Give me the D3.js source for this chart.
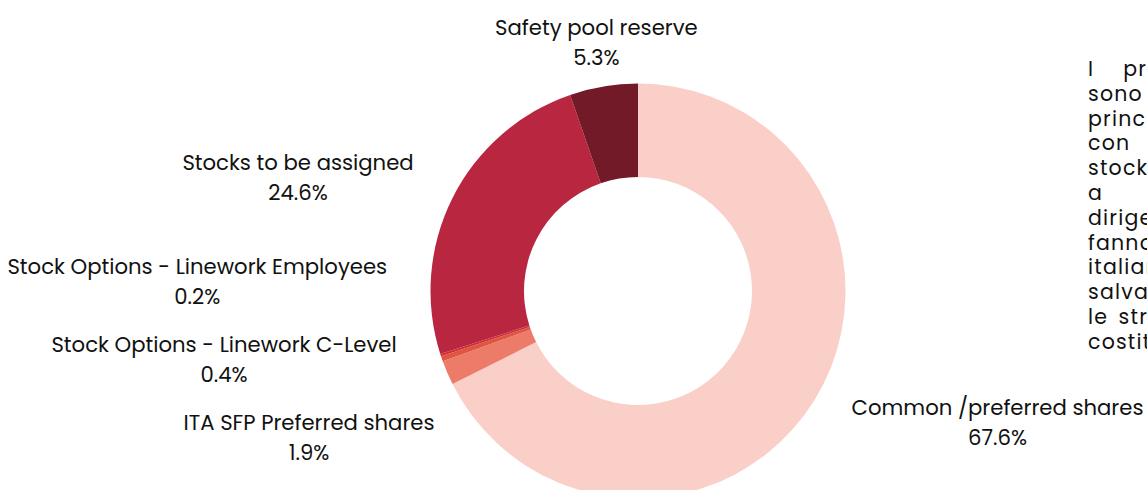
<!DOCTYPE html>
<html>
  <head>
    <meta charset="UTF-8">
    <title>Cap table</title>
    <style>
      body { margin: 0; background: #fff; overflow: hidden; }
      svg { position: absolute; left: 0; top: 0; }
      .note {
        position: absolute; left: 1088px; top: 57px; width: 235px;
        font-family: Poppins, "DejaVu Sans", sans-serif;
        font-size: 20.5px; letter-spacing: 1.2px; line-height: 24.8px; color: #111;
      }
      .note span { display: block; white-space: nowrap; text-align: justify; text-align-last: justify; }
    </style>
  </head>
  <body>

    <svg class="chart"></svg>
    <div class="note"></div>

    <script src="https://d3js.org/d3.v7.min.js"></script>
    <script>

// shares of the cap table, clockwise from 12 o'clock
var categories = [
  "Common /preferred shares",
  "ITA SFP Preferred shares",
  "Stock Options - Linework C-Level",
  "Stock Options - Linework Employees",
  "Stocks to be assigned",
  "Safety pool reserve"
];
var shares = [67.6, 1.9, 0.4, 0.2, 24.6, 5.3];
var colors = ["#f9cfc8", "#ec7b6a", "#e0553f", "#cf2f33", "#b8263f", "#721a28"];

// paragraph beside the chart (cut off by the window)
var noteLines = [
  "I primi investitori",
  "sono i fondatori",
  "principalmente",
  "con quote e",
  "stock options",
  "a manager e",
  "dirigenti che",
  "fanno parte",
  "italiani e",
  "salvaguardano",
  "le strategie dei soci",
  "costitutive"
];

var width = 1147, height = 490;
var cx = 638, cy = 291;
var outerR = 207.5, innerR = 114;
var labelR = 251;     // where the label hugs the pie
var labelGap = 78;    // min vertical distance between stacked labels
var labelMaxY = 438;  // keep the lowest label in the frame

var svg = d3.select("svg")
    .attr("width", width)
    .attr("height", height);

var data = categories.map(function(c, i) {
  return { name: c, value: shares[i], color: colors[i] };
});

var pie = d3.pie()
    .sort(null)
    .value(function(d) { return d.value; });

var arc = d3.arc()
    .innerRadius(innerR)
    .outerRadius(outerR);

var arcs = pie(data);

var g = svg.append("g")
    .attr("transform", "translate(" + cx + "," + cy + ")");

g.selectAll("path")
  .data(arcs)
  .enter().append("path")
    .attr("d", arc)
    .attr("fill", function(d) { return d.data.color; });

/* LABELS */

arcs.forEach(function(d) {
  d.mid = (d.startAngle + d.endAngle) / 2;
  d.side = Math.sin(d.mid) >= 0 ? 1 : -1;
  d.ly = -Math.cos(d.mid) * labelR;
});

// spread the stacked labels on the left half, then keep them in the frame
var left = arcs.filter(function(d) { return d.side < 0; })
  .sort(function(a, b) { return a.ly - b.ly; });
for (var it = 0; it < 200; it++) {
  for (var i = 0; i < left.length - 1; i++) {
    var overlap = labelGap - (left[i + 1].ly - left[i].ly);
    if (overlap > 0) {
      left[i].ly -= overlap / 2;
      left[i + 1].ly += overlap / 2;
    }
  }
  left.forEach(function(d) { d.ly = Math.min(d.ly, labelMaxY - cy); });
}

var labels = svg.append("g")
    .attr("class", "labels")
    .style("font-family", "Poppins, 'DejaVu Sans', sans-serif")
    .style("font-size", "21.2px")
    .attr("fill", "#111")
  .selectAll("g")
  .data(arcs)
  .enter().append("g");

labels.append("text")
    .attr("text-anchor", "middle")
    .text(function(d) { return d.data.name; });

labels.append("text")
    .attr("class", "pct")
    .attr("text-anchor", "middle")
    .text(function(d) { return d3.format(".1f")(d.data.value) + "%"; });

labels.each(function(d) {
  var w = d3.select(this).select("text").node().getComputedTextLength();
  var lx = Math.sqrt(Math.max(0, labelR * labelR - d.ly * d.ly));
  var x;
  if (Math.abs(Math.sin(d.mid)) < 0.25) x = cx + Math.sin(d.mid) * labelR;
  else x = cx + d.side * (lx + w / 2);
  var y = cy + d.ly;
  d3.select(this).selectAll("text")
      .attr("x", x)
      .attr("y", function(_, j) { return y - 8 + j * 30; });
});

/* NOTE */
d3.select(".note").selectAll("span")
  .data(noteLines)
  .enter().append("span")
    .text(function(d) { return d; });

</script>
  </body>
</html>
